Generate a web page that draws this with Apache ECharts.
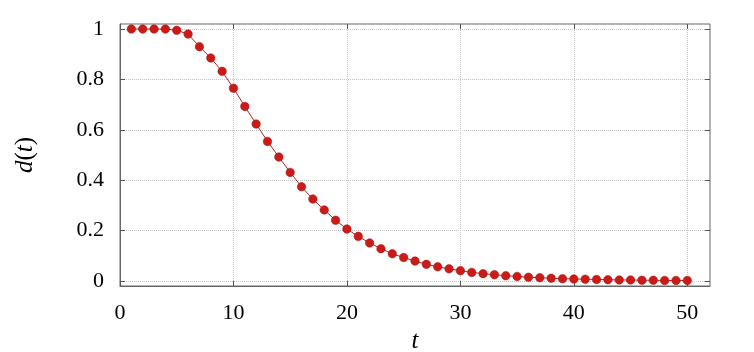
<!DOCTYPE html>
<html>
<head>
<meta charset="utf-8">
<script src="https://cdn.jsdelivr.net/npm/echarts@6/dist/echarts.min.js"></script>
<style>html,body{margin:0;padding:0;background:#fff}#c{width:754px;height:352px}</style>
</head>
<body>
<div id="c"></div>
<script>
var tValues = [1,2,3,4,5,6,7,8,9,10,11,12,13,14,15,16,17,18,19,20,21,22,23,24,25,26,27,28,29,30,31,32,33,34,35,36,37,38,39,40,41,42,43,44,45,46,47,48,49,50];
var dValues = [1.0,1.0,1.0,1.0,0.995,0.98,0.930,0.885,0.832,0.765,0.693,0.623,0.554,0.492,0.431,0.374,0.325,0.282,0.241,0.206,0.177,0.151,0.128,0.108,0.093,0.079,0.066,0.056,0.048,0.041,0.034,0.029,0.025,0.021,0.018,0.015,0.013,0.011,0.009,0.008,0.007,0.006,0.005,0.004,0.004,0.003,0.003,0.002,0.002,0.002];
var xTicks = [0,10,20,30,40,50];
var yTicks = [0,0.2,0.4,0.6,0.8,1];

var font = 'Liberation Serif';
var gridLine = {show:true, lineStyle:{color:'#c4c4c4', type:[1,1], width:1}};
var tick = {show:true, inside:true, length:5, lineStyle:{color:'#555'}};
var chart = echarts.init(document.getElementById('c'));
chart.setOption({
  animation:false,
  grid:{left:120, right:44, top:24, bottom:66, show:true, borderColor:'#666', borderWidth:1,
        containLabel:false, outerBoundsMode:'none'},
  xAxis:[{
    type:'value', min:0, max:52,
    name:'t', nameLocation:'middle', nameGap:40,
    nameTextStyle:{fontFamily:font, fontSize:25, fontStyle:'italic', color:'#000'},
    axisLine:{show:true, onZero:false, lineStyle:{color:'#666'}},
    axisTick:Object.assign({customValues:xTicks}, tick),
    axisLabel:{customValues:xTicks, fontFamily:font, fontSize:22, color:'#000', margin:16},
    splitLine:gridLine
  },{
    type:'value', min:0, max:52, position:'top',
    axisLine:{show:false, onZero:false},
    axisTick:Object.assign({customValues:xTicks}, tick),
    axisLabel:{show:false}, splitLine:{show:false}
  }],
  yAxis:[{
    type:'value', min:-0.02, max:1.02,
    name:'{i|d}({i|t})', nameLocation:'middle', nameGap:82, nameRotate:90,
    nameTextStyle:{fontFamily:font, fontSize:25, color:'#000',
      rich:{i:{fontFamily:font, fontSize:25, fontStyle:'italic', color:'#000'}}},
    axisLine:{show:true, onZero:false, lineStyle:{color:'#666'}},
    axisTick:Object.assign({customValues:yTicks}, tick),
    axisLabel:{customValues:yTicks, fontFamily:font, fontSize:22, color:'#000', margin:16},
    splitLine:gridLine
  },{
    type:'value', min:-0.02, max:1.02, position:'right',
    axisLine:{show:false, onZero:false},
    axisTick:Object.assign({customValues:yTicks}, tick),
    axisLabel:{show:false}, splitLine:{show:false}
  }],
  series:[{
    type:'line',
    data:tValues.map(function(t,i){return [t,dValues[i]];}),
    symbol:'circle', symbolSize:8.5,
    lineStyle:{color:'#b8241c', width:1},
    itemStyle:{color:'#cc1b16', borderColor:'#a01010', borderWidth:0.5}
  }]
});
</script>
</body>
</html>
